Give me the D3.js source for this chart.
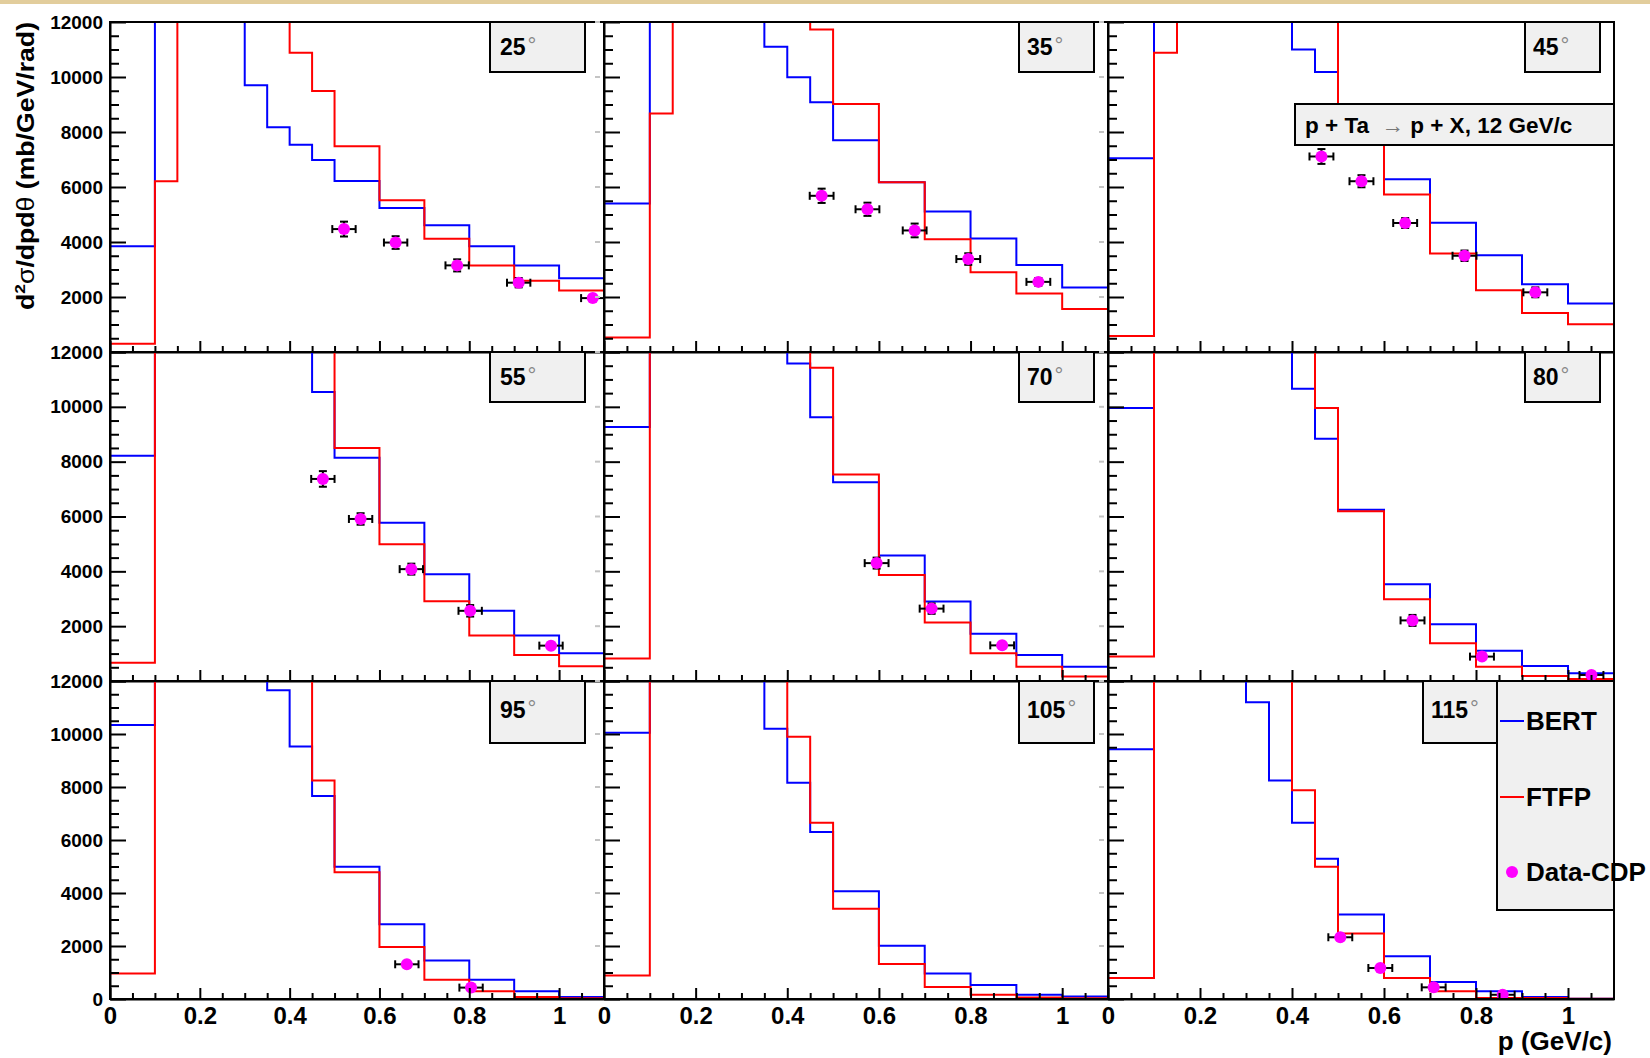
<!DOCTYPE html>
<html>
<head>
<meta charset="utf-8">
<script src="https://cdn.jsdelivr.net/npm/d3@7"></script>
<style>
  body { margin: 0; background: #fff; }
  svg { display: block; }
</style>
</head>
<body>
<svg id="chart" width="1650" height="1058"></svg>
<script>
var FONT = "'Liberation Sans', Arial, Helvetica, sans-serif";

// bin edges of the simulated spectra, p in GeV/c
var binEdges = [0, 0.1, 0.15, 0.2, 0.25, 0.3, 0.35, 0.4, 0.45, 0.5, 0.6, 0.7, 0.8, 0.9, 1.0, 1.1];

var angles = ["25", "35", "45", "55", "70", "80", "95", "105", "115"];

// BERT (blue) bin contents per angle, off-scale bins are clipped at 12000
var bert = [
  [3850, 18000, 21000, 19000, 14500, 9700, 8170, 7540, 6980, 6220, 5240, 4610, 3850, 3150, 2680],
  [5400, 17000, 20000, 18000, 15500, 13000, 11100, 9990, 9080, 7700, 6170, 5110, 4130, 3160, 2350],
  [7050, 18000, 21000, 20000, 17000, 15000, 13000, 11000, 10180, 8000, 6280, 4700, 3520, 2460, 1760],
  [8220, 17000, 20000, 21000, 19000, 17000, 15000, 13000, 10540, 8140, 5770, 3890, 2560, 1660, 1010],
  [9260, 16000, 19000, 20000, 18000, 16000, 13500, 11580, 9620, 7250, 4580, 2900, 1720, 950, 520],
  [9960, 16000, 19000, 20000, 18000, 15500, 13000, 10660, 8840, 6250, 3530, 2070, 1100, 550, 280],
  [10340, 16000, 19000, 20000, 18000, 14000, 11650, 9530, 7660, 4990, 2820, 1450, 730, 290, 80],
  [10050, 16000, 19000, 20000, 18000, 14000, 10200, 8160, 6300, 4070, 2010, 960, 530, 160, 90],
  [9420, 16000, 19000, 19000, 15000, 11200, 8250, 6650, 5290, 3190, 1610, 640, 290, 80, 10]
];

// FTFP (red) bin contents per angle
var ftfp = [
  [300, 6210, 16000, 19000, 17000, 14500, 12800, 10880, 9490, 7480, 5520, 4120, 3150, 2590, 2240],
  [530, 8670, 17000, 19000, 17500, 15500, 14000, 12500, 11730, 9020, 6170, 4100, 2900, 2130, 1560],
  [580, 10880, 17000, 20000, 19000, 17000, 15500, 14000, 12500, 8200, 5730, 3580, 2250, 1420, 1010],
  [670, 14000, 18000, 20000, 19000, 17500, 16000, 14500, 13000, 8500, 4990, 2910, 1660, 950, 540],
  [820, 15000, 18000, 20000, 19000, 17000, 15000, 13000, 11430, 7530, 3870, 2130, 1010, 520, 160],
  [890, 15000, 18000, 20000, 19000, 17000, 15000, 13000, 9960, 6190, 2980, 1380, 520, 180, 70],
  [960, 15000, 18000, 20000, 19000, 17000, 15000, 13000, 8250, 4780, 1960, 730, 290, 80, 30],
  [890, 15000, 18000, 20000, 19000, 17000, 14000, 9900, 6650, 3410, 1320, 450, 160, 60, 25],
  [790, 15000, 18000, 20000, 19000, 17000, 14000, 7880, 4990, 2470, 790, 290, 40, 40, 5]
];

// HARP-CDP data points
var dataP = [
  [0.521, 0.636, 0.773, 0.910, 1.075],
  [0.475, 0.575, 0.678, 0.795, 0.948],
  [0.464, 0.551, 0.646, 0.775, 0.929],
  [0.474, 0.558, 0.671, 0.802, 0.982],
  [0.595, 0.715, 0.869],
  [0.662, 0.813, 1.051],
  [0.661, 0.804],
  [],
  [0.505, 0.592, 0.708, 0.858]
];
var dataV = [
  [4470, 3980, 3150, 2520, 1960],
  [5680, 5190, 4420, 3380, 2550],
  [7110, 6210, 4690, 3500, 2170],
  [7370, 5910, 4080, 2560, 1290],
  [4300, 2640, 1300],
  [2210, 890, 220],
  [1310, 430],
  [],
  [2330, 1170, 440, 160]
];
var dataErr = [
  [270, 230, 220, 170, 100],
  [260, 240, 250, 210, 140],
  [270, 220, 180, 190, 180],
  [285, 210, 200, 210, 100],
  [200, 190, 80],
  [200, 100, 60],
  [80, 50],
  [],
  [100, 70, 40, 30]
];
var pErr = 0.026;

var yTicks = [0, 2000, 4000, 6000, 8000, 10000, 12000];
var xTicks = [0, 0.2, 0.4, 0.6, 0.8, 1];
var legendNames = ["BERT", "FTFP", "Data-CDP"];

// pad grid (pixels)
var colX = [110, 604, 1108, 1614];
var rowY = [22, 352, 681, 999];

var svg = d3.select("#chart");

// tan strip along the top edge
svg.append("rect").attr("x", 0).attr("y", 0).attr("width", 1650).attr("height", 4).attr("fill", "#e2cd9c");

var yMinor = d3.range(500, 12000, 500).filter(function(d) { return d % 2000 !== 0; });
var xMinor = d3.range(1, 22).map(function(k) { return k * 0.05; }).filter(function(d) { return Math.abs(d * 5 - Math.round(d * 5)) > 1e-6; });

angles.forEach(function(ang, i) {
  var r = Math.floor(i / 3), c = i % 3;
  var x = d3.scaleLinear().domain([0, 1.1]).range([colX[c], colX[c + 1]]);
  var y = d3.scaleLinear().domain([0, 12000]).range([rowY[r + 1], rowY[r]]);
  var g = svg.append("g");

  g.append("clipPath").attr("id", "clip" + i).append("rect")
    .attr("x", colX[c]).attr("y", rowY[r])
    .attr("width", colX[c + 1] - colX[c]).attr("height", rowY[r + 1] - rowY[r]);
  var plot = g.append("g").attr("clip-path", "url(#clip" + i + ")");

  var line = d3.line().x(function(d) { return x(d[0]); }).y(function(d) { return y(d[1]); });

  [bert[i], ftfp[i]].forEach(function(vals, k) {
    var pts = [];
    vals.forEach(function(v, b) { pts.push([binEdges[b], v], [binEdges[b + 1], v]); });
    plot.append("path").attr("d", line(pts))
      .attr("fill", "none")
      .attr("stroke", k ? "#ff0000" : "#0000ff")
      .attr("stroke-width", 2);
  });

  // data with error bars
  dataP[i].forEach(function(p, j) {
    var v = dataV[i][j], e = dataErr[i][j];
    var pt = plot.append("g").attr("stroke", "#000").attr("stroke-width", 2);
    pt.append("line").attr("x1", x(p - pErr)).attr("x2", x(p + pErr)).attr("y1", y(v)).attr("y2", y(v));
    pt.append("line").attr("x1", x(p - pErr)).attr("x2", x(p - pErr)).attr("y1", y(v) - 4).attr("y2", y(v) + 4);
    pt.append("line").attr("x1", x(p + pErr)).attr("x2", x(p + pErr)).attr("y1", y(v) - 4).attr("y2", y(v) + 4);
    pt.append("line").attr("x1", x(p)).attr("x2", x(p)).attr("y1", y(v - e)).attr("y2", y(v + e));
    pt.append("line").attr("x1", x(p) - 4).attr("x2", x(p) + 4).attr("y1", y(v - e)).attr("y2", y(v - e));
    pt.append("line").attr("x1", x(p) - 4).attr("x2", x(p) + 4).attr("y1", y(v + e)).attr("y2", y(v + e));
    plot.append("circle").attr("cx", x(p)).attr("cy", y(v)).attr("r", 6).attr("fill", "#ff00ff");
  });

  // frame
  g.append("rect")
    .attr("x", colX[c]).attr("y", rowY[r])
    .attr("width", colX[c + 1] - colX[c]).attr("height", rowY[r + 1] - rowY[r])
    .attr("fill", "none").attr("stroke", "#000").attr("stroke-width", 2);

  // y axis, ticks inside
  var ya = g.append("g").attr("transform", "translate(" + colX[c] + ",0)")
    .call(d3.axisLeft(y).tickValues(yTicks).tickSizeInner(-16).tickSizeOuter(0).tickPadding(7)
      .tickFormat(function(d) { return (c === 0 && (d > 0 || r === 2)) ? d : ""; }));
  g.append("g").attr("transform", "translate(" + colX[c] + ",0)")
    .call(d3.axisLeft(y).tickValues(yMinor).tickSizeInner(-9).tickSizeOuter(0).tickFormat(""))
    .select(".domain").remove();

  // x axis, ticks inside
  var xa = g.append("g").attr("transform", "translate(0," + rowY[r + 1] + ")")
    .call(d3.axisBottom(x).tickValues(xTicks).tickSizeInner(-11).tickSizeOuter(0).tickPadding(8)
      .tickFormat(function(d) { return r === 2 ? d : ""; }));
  g.append("g").attr("transform", "translate(0," + rowY[r + 1] + ")")
    .call(d3.axisBottom(x).tickValues(xMinor).tickSizeInner(-6).tickSizeOuter(0).tickFormat(""))
    .select(".domain").remove();

  g.selectAll(".tick line, .domain").attr("stroke", "#000").attr("stroke-width", 2);
  ya.attr("font-family", FONT).attr("font-size", 19).attr("font-weight", "bold");
  xa.attr("font-family", FONT).attr("font-size", 24).attr("font-weight", "bold");
  g.selectAll(".tick text").attr("fill", "#000");

  // faint marks left by the neighbouring pad
  if (c < 2) {
    g.selectAll(".ghost").data(yTicks.filter(function(d) { return d > 0; })).enter().append("line")
      .attr("x1", colX[c + 1] - 9).attr("x2", colX[c + 1] - 4)
      .attr("y1", function(d) { return y(d); }).attr("y2", function(d) { return y(d); })
      .attr("stroke", "#c4c4c4").attr("stroke-width", 2);
  }

  // angle label
  var bw = c === 0 ? 95 : 75;
  var bx = i === 8 ? 1423 : colX[c + 1] - (c === 0 ? 114 : 89);
  var bh = r === 2 ? 62 : 50;
  g.append("rect").attr("x", bx).attr("y", rowY[r]).attr("width", bw).attr("height", bh)
    .attr("fill", "#f0f0f0").attr("stroke", "#000").attr("stroke-width", 2);
  var t = g.append("text").attr("x", bx + (c === 0 ? 10 : 8)).attr("y", rowY[r] + (r === 2 ? 37 : 33))
    .attr("font-family", FONT).attr("font-weight", "bold").attr("font-size", 23).attr("fill", "#000");
  t.append("tspan").text(ang);
  t.append("tspan").attr("dx", 2).attr("dy", -2).attr("font-size", 22).attr("fill", "#888").attr("font-weight", "normal").text("°");
});

// reaction label
svg.append("rect").attr("x", 1295).attr("y", 104).attr("width", 319).attr("height", 41)
  .attr("fill", "#f0f0f0").attr("stroke", "#000").attr("stroke-width", 2);
var rt = svg.append("text").attr("x", 1305).attr("y", 133)
  .attr("font-family", FONT).attr("font-weight", "bold").attr("font-size", 22.5).attr("fill", "#000")
  .attr("xml:space", "preserve");
rt.append("tspan").text("p + Ta  ");
rt.append("tspan").attr("fill", "#777").attr("font-weight", "normal").text("→");
rt.append("tspan").text(" p + X, 12 GeV/c");

// legend
svg.append("rect").attr("x", 1497).attr("y", 681).attr("width", 117).attr("height", 229)
  .attr("fill", "#f0f0f0").attr("stroke", "#000").attr("stroke-width", 2);
var legY = [721, 797, 872];
var legColor = ["#0000ff", "#ff0000", "#ff00ff"];
legendNames.forEach(function(name, k) {
  if (k < 2) {
    svg.append("line").attr("x1", 1500).attr("x2", 1524).attr("y1", legY[k]).attr("y2", legY[k])
      .attr("stroke", legColor[k]).attr("stroke-width", 2);
  } else {
    svg.append("circle").attr("cx", 1512).attr("cy", legY[k]).attr("r", 6).attr("fill", legColor[k]);
  }
  svg.append("text").attr("x", 1526).attr("y", legY[k] + 9)
    .attr("font-family", FONT).attr("font-weight", "bold").attr("font-size", 26).attr("fill", "#000")
    .text(name);
});

// axis titles
var yt = svg.append("text")
  .attr("transform", "translate(34,22) rotate(-90)")
  .attr("text-anchor", "end")
  .attr("font-family", FONT).attr("font-weight", "bold").attr("font-size", 23).attr("fill", "#000")
  .attr("textLength", 288).attr("lengthAdjust", "spacingAndGlyphs");
yt.append("tspan").text("d");
yt.append("tspan").attr("font-size", 15).attr("dy", -9).text("2");
yt.append("tspan").attr("dy", 9).attr("font-weight", "normal").text("σ");
yt.append("tspan").text("/dpd");
yt.append("tspan").attr("font-weight", "normal").text("θ");
yt.append("tspan").text(" (mb/GeV/rad)");

svg.append("text").attr("x", 1612).attr("y", 1050).attr("text-anchor", "end")
  .attr("font-family", FONT).attr("font-weight", "bold").attr("font-size", 26).attr("fill", "#000")
  .text("p (GeV/c)");
</script>
</body>
</html>
